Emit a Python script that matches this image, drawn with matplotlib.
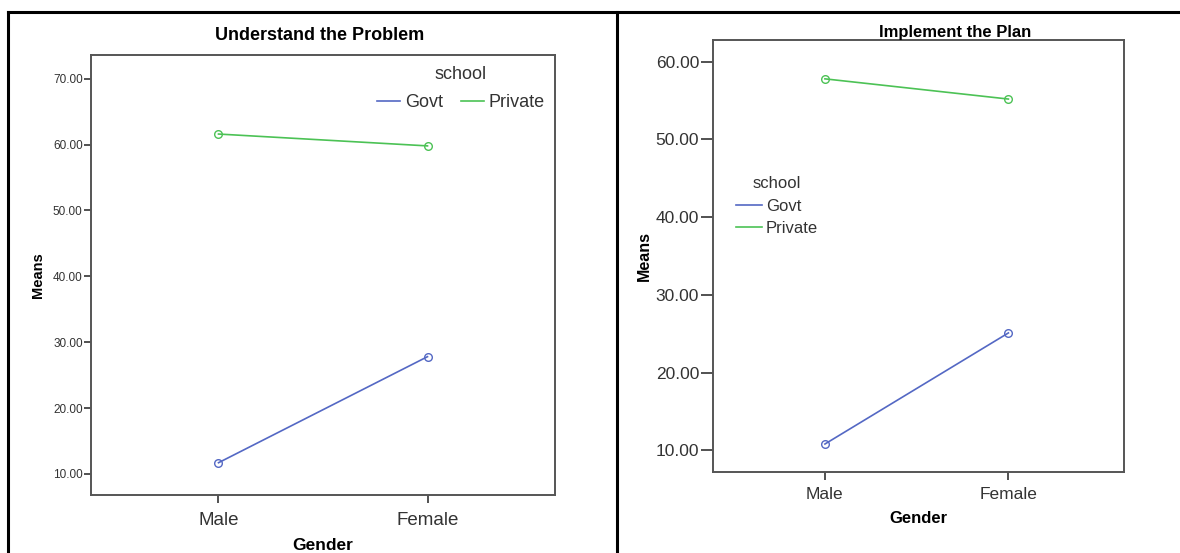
import matplotlib
matplotlib.use("Agg")
import matplotlib.pyplot as plt
from matplotlib.lines import Line2D

plt.rcParams['font.family'] = ['Liberation Sans', 'DejaVu Sans']

genders = ["Male", "Female"]
series = ["Govt", "Private"]
understand_govt = [11.7, 27.8]
understand_private = [61.6, 59.8]
implement_govt = [10.8, 25.1]
implement_private = [57.8, 55.2]
colors = {"Govt": "#5468c4", "Private": "#4cc255"}

W, H = 1180, 553
fig = plt.figure(figsize=(W / 100, H / 100), dpi=100)

def rect(x0, y0, x1, y1):
    return [x0 / W, 1 - y1 / H, (x1 - x0) / W, (y1 - y0) / H]

# outer panel frame
for xs, ys in [((8, 8), (12, H)), ((617, 617), (12, H)), ((8, W), (12, 12))]:
    fig.add_artist(Line2D([x / W for x in xs], [1 - y / H for y in ys],
                          color="black", lw=2.2, transform=fig.transFigure))

def style(ax, tick_fs, tick_len, cat_fs, xlab_fs, ylab_fs, xlabpad, ylabpad, catpad):
    for s in ax.spines.values():
        s.set_color("#555555")
        s.set_linewidth(1.4)
    ax.tick_params(axis="y", direction="out", length=tick_len, width=1.2, color="#333333",
                   labelsize=tick_fs, labelcolor="#333333", pad=1)
    ax.tick_params(axis="x", direction="out", length=6, width=1.2, color="#333333",
                   labelsize=cat_fs, labelcolor="#333333", pad=catpad)
    ax.yaxis.set_major_formatter(matplotlib.ticker.FormatStrFormatter("%.2f"))
    ax.set_xticks(range(len(genders)))
    ax.set_xticklabels(genders)
    ax.set_xlabel("Gender", fontweight="bold", fontsize=xlab_fs, labelpad=xlabpad)
    ax.set_ylabel("Means", fontweight="bold", fontsize=ylab_fs, labelpad=ylabpad)

def legend_handles():
    return [Line2D([], [], color=colors[s], lw=1.2) for s in series]

# Left panel
ax1 = fig.add_axes(rect(91, 55, 555, 495))
x = range(len(genders))
ax1.plot(x, understand_govt, color=colors["Govt"], lw=1.2, marker="o", ms=5.5,
         mfc="none", mew=1.0)
ax1.plot(x, understand_private, color=colors["Private"], lw=1.2, marker="o", ms=5.5,
         mfc="none", mew=1.0)
ax1.set_xlim(-0.61, 1.61)
ax1.set_ylim(6.8, 73.6)
ax1.set_yticks([10, 20, 30, 40, 50, 60, 70])
style(ax1, 8.5, 5, 13.5, 12.5, 10.5, 7, 6, 6)
fig.text(320 / W, 1 - 36 / H, "Understand the Problem", fontweight="bold",
         fontsize=13, ha="center", va="center")
leg1 = ax1.legend(legend_handles(), series, title="school", ncol=2, frameon=False,
                  fontsize=13, title_fontsize=13, handlelength=1.3, handletextpad=0.25,
                  columnspacing=1.0, loc="upper center",
                  bbox_to_anchor=(461 / W, 1 - 50 / H), bbox_transform=fig.transFigure)
leg1._legend_box.sep = 8
for t in leg1.get_texts():
    t.set_color("#333333")
leg1.get_title().set_color("#333333")

# Right panel
ax2 = fig.add_axes(rect(713, 40, 1124, 472))
ax2.plot(x, implement_govt, color=colors["Govt"], lw=1.2, marker="o", ms=5.5,
         mfc="none", mew=1.0)
ax2.plot(x, implement_private, color=colors["Private"], lw=1.2, marker="o", ms=5.5,
         mfc="none", mew=1.0)
ax2.set_xlim(-0.61, 1.63)
ax2.set_ylim(7.2, 62.8)
ax2.set_yticks([10, 20, 30, 40, 50, 60])
style(ax2, 12.5, 9, 12.5, 12, 11.5, 6.5, 3, 5)
fig.text(955 / W, 1 - 32 / H, "Implement the Plan", fontweight="bold",
         fontsize=12, ha="center", va="center")
leg2 = ax2.legend(legend_handles(), series, title="school", ncol=1, frameon=False,
                  fontsize=12, title_fontsize=12, handlelength=1.55, handletextpad=0.25,
                  labelspacing=0.42, loc="upper left",
                  bbox_to_anchor=(721 / W, 1 - 161 / H), bbox_transform=fig.transFigure)
leg2._legend_box.sep = 6
for t in leg2.get_texts():
    t.set_color("#333333")
leg2.get_title().set_color("#333333")

fig.savefig("out.png", dpi=100)
